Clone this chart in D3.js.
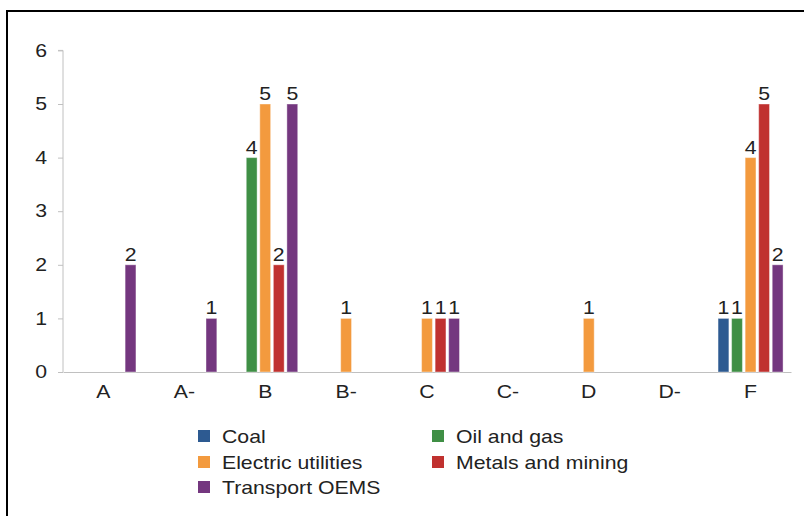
<!DOCTYPE html>
<html><head><meta charset="utf-8">
<script src="https://cdn.jsdelivr.net/npm/d3@7"></script>
<style>body{margin:0;background:#fff;}svg{display:block;font-family:"Liberation Sans",Arial,sans-serif;}</style>
</head><body><svg id="c" width="804" height="516"></svg>
<script>
const categories = ["A","A-","B","B-","C","C-","D","D-","F"];
const seriesNames = ["Coal","Oil and gas","Electric utilities","Metals and mining","Transport OEMS"];
const seriesColors = ["#2d5a91","#3f8f45","#f39a3e","#c0312f","#74377f"];
const coal      = [null,null,null,null,null,null,null,null,1];
const oilGas    = [null,null,4,null,null,null,null,null,1];
const electric  = [null,null,5,1,1,null,1,null,4];
const metals    = [null,null,2,null,1,null,null,null,5];
const transport = [2,1,5,null,1,null,null,null,2];
const yTicks = [0,1,2,3,4,5,6];

const SX = 1.18, FS = 18;
const allSeries = [coal, oilGas, electric, metals, transport];
const svg = d3.select("#c");

// frame
svg.append("rect").attr("x",7).attr("y",11).attr("width",830).attr("height",540)
  .attr("fill","none").attr("stroke","#000").attr("stroke-width",2);

const x0 = d3.scaleBand().domain(categories).range([63,791]).padding(0);
const x1 = d3.scaleBand().domain(seriesNames).range([0,65]).paddingInner(0.2);
const y = d3.scaleLinear().domain([0,6]).range([372,50.4]);
const groupOffset = (x0.bandwidth()-65)/2;

function stretched(sel){ sel.attr("font-size",FS).attr("fill","#222")
  .attr("font-family","Liberation Sans, Arial, sans-serif"); }

// y axis
const yAxis = svg.append("g").attr("transform","translate(63,0)")
  .call(d3.axisLeft(y).tickValues(yTicks).tickSize(5).tickFormat(d3.format("d")));
yAxis.selectAll("path,line").attr("stroke","#c0c0c0");
yAxis.select(".domain").attr("d","M-5,50.4H0V372");
yAxis.selectAll("text").call(stretched).attr("x",-16/SX).attr("transform",`scale(${SX},1)`);

// x axis
const xAxis = svg.append("g").attr("transform","translate(0,372)")
  .call(d3.axisBottom(x0).tickSize(0).tickPadding(13));
xAxis.select(".domain").attr("stroke","#c0c0c0");
xAxis.selectAll("text").call(stretched).attr("transform",`scale(${SX},1)`);

// bars
const bars = [];
allSeries.forEach((vals,si)=>{
  vals.forEach((v,ci)=>{ if(v!=null) bars.push({s:seriesNames[si],si,c:categories[ci],v}); });
});
const bx = d => x0(d.c)+groupOffset+x1(d.s);
svg.append("g").selectAll("rect").data(bars).join("rect")
  .attr("x",bx).attr("width",x1.bandwidth())
  .attr("y",d=>y(d.v)).attr("height",d=>y(0)-y(d.v))
  .attr("fill",d=>seriesColors[d.si])
  .attr("stroke","rgba(255,255,255,0.4)").attr("stroke-width",1);
svg.append("g").selectAll("text").data(bars).join("text")
  .attr("transform",d=>`translate(${bx(d)+x1.bandwidth()/2},${y(d.v)-4}) scale(${SX},1)`)
  .attr("text-anchor","middle").call(stretched)
  .text(d=>d.v);

// legend
const legendPos = [[198,430],[432,430],[198,456],[432,456],[198,481]];
const lg = svg.append("g");
seriesNames.forEach((n,i)=>{
  const [lx,ly] = legendPos[i];
  lg.append("rect").attr("x",lx).attr("y",ly).attr("width",12).attr("height",12).attr("fill",seriesColors[i]);
  lg.append("text").attr("transform",`translate(${lx+24},${ly+12.5}) scale(${SX},1)`).call(stretched).text(n);
});
</script></body></html>
